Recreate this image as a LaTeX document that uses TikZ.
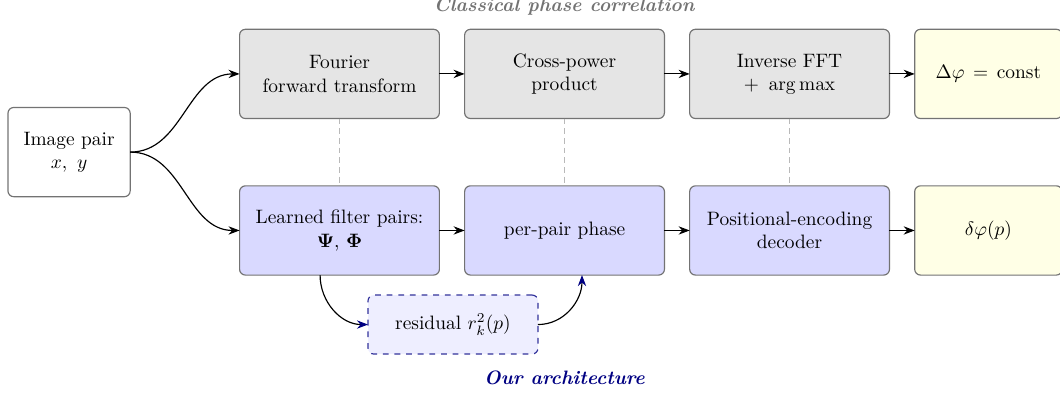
\documentclass[tikz,border=0pt]{standalone}
\usepackage{tikz}
\usetikzlibrary{chains,positioning,arrows.meta}

\definecolor{boxgray}{gray}{0.9}
\definecolor{learnblue}{RGB}{217,217,255}
\definecolor{outyellow}{RGB}{255,255,230}
\definecolor{resfill}{RGB}{238,238,255}
\definecolor{ournavy}{RGB}{0,0,130}

\begin{document}
\begin{tikzpicture}[
node distance=13pt,
    B/.style = {rectangle, draw=black!55, line width=0.6pt, rounded corners=3pt,% boxes of both rows
                minimum width=103pt, minimum height=46pt,
                align=center, outer sep=0pt},
    Y/.style = {B, fill=outyellow, minimum width=76pt},% outputs at the right
  arr/.style = {-{Stealth}, semithick},
  link/.style = {densely dashed, draw=gray!55},
                    ]
\useasboundingbox (0,0) rectangle (546.4pt,-205.2pt);
% input
\node[B, minimum width=63pt] (img) at (35.6pt,-78.4pt) {Image pair\\ $x,\ y$};
% classical row
\begin{scope}[start chain = T going right]
\node[B, fill=boxgray, on chain] at (175pt,-38.1pt) {Fourier\\ forward transform};
\node[B, fill=boxgray, on chain] {Cross-power\\ product};
\node[B, fill=boxgray, on chain] {Inverse FFT\\ $+\ \arg\max$};
\node[Y, on chain] {$\Delta\varphi\,=\,\mathrm{const}$};
\end{scope}
% our row
\begin{scope}[start chain = L going right]
\node[B, fill=learnblue, on chain] at (175pt,-118.8pt) {Learned filter pairs:\\ $\mathbf{\Psi}$, $\mathbf{\Phi}$};
\node[B, fill=learnblue, on chain] {per-pair phase};
\node[B, fill=learnblue, on chain] {Positional-encoding\\ decoder};
\node[Y, on chain] {$\delta\varphi(p)$};
\end{scope}
\node[B, dashed, draw=ournavy!80, fill=resfill, minimum width=87.6pt,
      minimum height=30.4pt] (res) at (233.5pt,-167.3pt) {residual $r_k^2(p)$};
% titles
\node[above=3.5pt of T-2, text=black!55] (ttl) {\textbf{\textit{Classical phase correlation}}};
\node[below=46pt of L-2, text=ournavy] (our) {\textbf{\textit{Our architecture}}};

\draw[arr] (img.east) to[out=0, in=180] (T-1.west);
\draw[arr] (img.east) to[out=0, in=180] (L-1.west);
\foreach \i [count=\j from 2] in {1,2,3}
  {
  \draw[arr] (T-\i) -- (T-\j);
  \draw[arr] (L-\i) -- (L-\j);
  \draw[link] (T-\i) -- (L-\i);
  }
\draw[-{Stealth[color=ournavy]}, semithick] ([xshift=-10pt]L-1.south) to[out=-90, in=180] (res.west);
\draw[-{Stealth[color=ournavy]}, semithick] (res.east) to[out=0, in=-90] ([xshift=9pt]L-2.south);
\end{tikzpicture}
\end{document}
